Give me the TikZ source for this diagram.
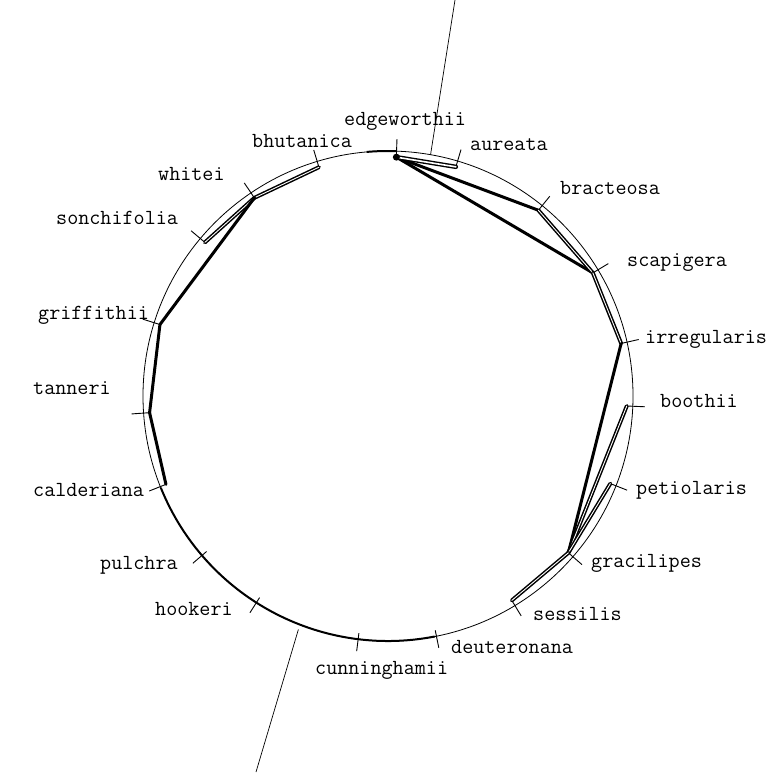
\documentclass[tikz,border=0pt]{standalone}
\usepackage{fontspec}
\usetikzlibrary{calc}
\begin{document}
\begin{tikzpicture}[x=1pt,y=1pt,
  lab/.style={font=\fontsize{21.5}{24}\selectfont\ttfamily, inner sep=0pt, anchor=mid west},
  ring/.style={line width=0.8pt},
  tk/.style={line width=0.9pt},
  chord/.style={line width=3pt, line cap=round, line join=round},
  dchord/.style={line width=1.5pt, double=white, double distance=0.9pt, line cap=round},
  ochord/.style={line width=1.4pt, double=white, double distance=1.6pt, line cap=round},
  axisline/.style={line width=0.7pt}]
\useasboundingbox (0,0) rectangle (778,772);
\coordinate (C) at (388,376);
\draw[ring] (C) circle[radius=245];
% heavier arcs
\draw[line width=2pt] ($(C)+(-158:245)$) arc[start angle=-158, end angle=-79, radius=245];
\draw[line width=2pt] ($(C)+(95:245)$) arc[start angle=95, end angle=88, radius=245];
% species points and ticks
\foreach \n/\a in {edg/88, aur/73.5, bra/51, sca/31, irr/12.7, boo/-2.4, pet/-21.5, gra/-41,
  ses/-58.8, deu/-78.6, cun/-97, hoo/-122.5, pul/-139.4, cal/-158.3, tan/-176, gri/162.6,
  son/140, whi/124, bhu/106.8}{
  \coordinate (\n) at ($(C)+(\a:239)$);
  \coordinate (\n-t) at ($(C)+(\a:257)$);
  \draw[tk] (\n) -- (\n-t);
}
% axis line
\coordinate (ax1) at ($(C)+(80:245)$);
\coordinate (ax1e) at (455,772);
\coordinate (ax2) at ($(C)+(-111:250)$);
\coordinate (ax2e) at (256,0);
\draw[axisline] (ax1) -- (ax1e);
\draw[axisline] (ax2) -- (ax2e);
% chords
\draw[chord] (edg) -- (bra);
\draw[chord] (edg) -- (sca);
\draw[ochord] (edg) -- (aur);
\draw[dchord] (bra) -- (sca);
\draw[dchord] (sca) -- (irr);
\draw[chord] (irr) -- (gra);
\draw[dchord] (boo) -- (gra);
\draw[dchord] (pet) -- (gra);
\draw[dchord] (gra) -- (ses);
\draw[dchord] (bhu) -- (whi);
\draw[dchord] (whi) -- (son);
\draw[chord] (whi) -- (gri);
\draw[chord] (gri) -- (tan);
\draw[chord] (tan) -- (cal);
\fill (edg) circle[radius=3.5];
% labels
\node[lab] (l-edg) at (344,649) {edgeworthii};
\node[lab] (l-aur) at (470,624) {aureata};
\node[lab] (l-bra) at (560,580) {bracteosa};
\node[lab] (l-sca) at (627,508) {scapigera};
\node[lab] (l-irr) at (645,431) {irregularis};
\node[lab] (l-boo) at (660,367) {boothii};
\node[lab] (l-pet) at (636,280) {petiolaris};
\node[lab] (l-gra) at (591,207) {gracilipes};
\node[lab] (l-ses) at (533,154) {sessilis};
\node[lab] (l-deu) at (451,121) {deuteronana};
\node[lab] (l-cun) at (315,100) {cunninghamii};
\node[lab] (l-hoo) at (155,159) {hookeri};
\node[lab] (l-pul) at (100,205) {pulchra};
\node[lab] (l-cal) at (33,278) {calderiana};
\node[lab] (l-tan) at (33,380) {tanneri};
\node[lab] (l-gri) at (38,455) {griffithii};
\node[lab] (l-son) at (56,550) {sonchifolia};
\node[lab] (l-whi) at (158,594) {whitei};
\node[lab] (l-bhu) at (252,627) {bhutanica};
\end{tikzpicture}
\end{document}
